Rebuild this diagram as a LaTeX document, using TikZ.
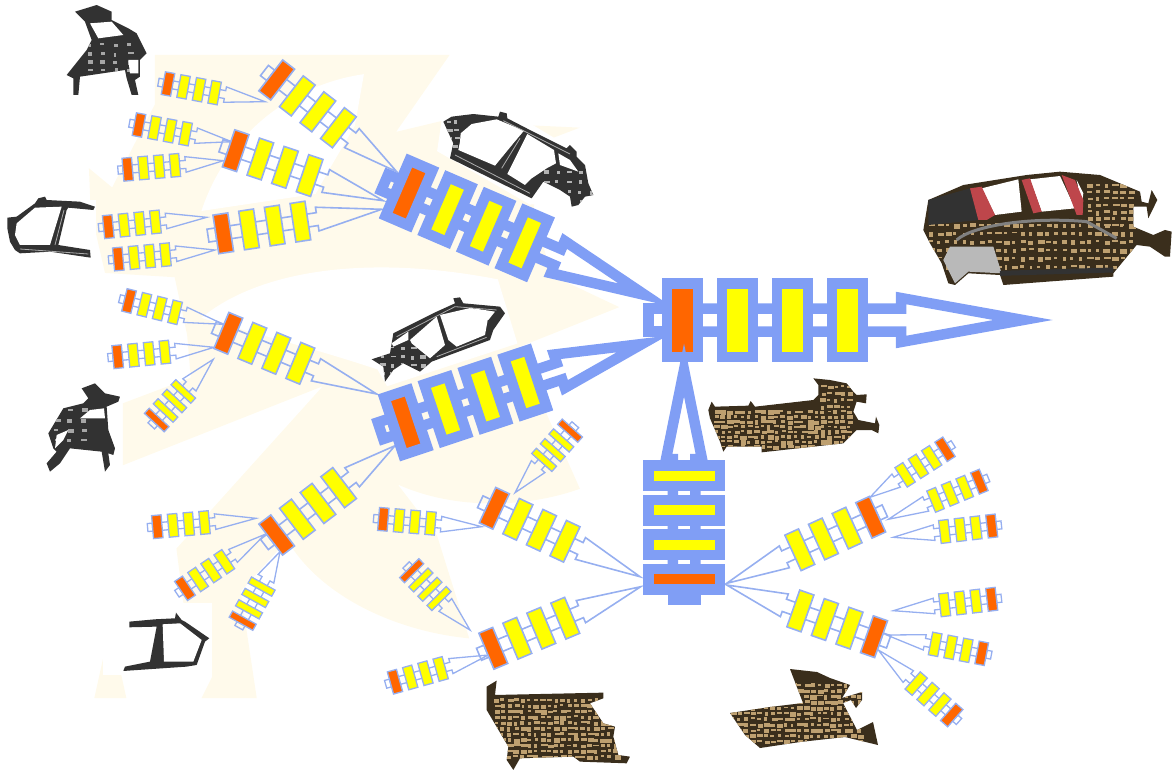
\documentclass[tikz,border=0pt]{standalone}
\usepackage{tikz}
\usetikzlibrary{calc,positioning}
\definecolor{my_blue}{RGB}{128,158,245}
\definecolor{my_thin}{RGB}{150,175,240}
\definecolor{my_red}{RGB}{255,102,0}
\definecolor{my_yellow}{RGB}{255,255,0}
\definecolor{my_cream}{RGB}{255,250,235}
\definecolor{my_panel}{RGB}{50,50,50}
\definecolor{my_brown}{RGB}{58,46,28}
\definecolor{my_tan}{RGB}{190,160,112}
\definecolor{my_pillar}{RGB}{190,70,75}
\tikzset{
  station_box/.style = {rectangle, draw=\railcol, line width=\linew pt, inner sep=0pt, outer sep=0pt,
  minimum width=\boxw pt, minimum height=\boxh pt, transform shape},
  rail_line/.style = {draw=\railcol, line width=\linew pt, miter limit=30},
  panel_fill/.style = {fill=my_panel},
  floor_fill/.style = {fill=my_brown},
  cream_fill/.style = {fill=my_cream},
  frame_line/.style = {draw=gray!65, line width=0.8pt}
}
\newcommand{\sizesmall}{\def\boxw{9.5}\def\boxh{23}\def\boxp{15.8}\def\railc{4}\def\stubs{5}\def\basex{58}\def\flare{7.8}\def\linew{1.3}\def\railcol{my_thin}}
\newcommand{\sizeflat}{\def\boxw{7}\def\boxh{27}\def\boxp{13}\def\railc{4.5}\def\stubs{4.5}\def\basex{48}\def\flare{9}\def\linew{1.3}\def\railcol{my_thin}}
\newcommand{\sizemid}{\def\boxw{15}\def\boxh{39}\def\boxp{26}\def\railc{6.5}\def\stubs{8}\def\basex{95}\def\flare{12}\def\linew{1.6}\def\railcol{my_thin}}
\newcommand{\sizebig}{\def\boxw{25}\def\boxh{60}\def\boxp{42}\def\railc{8.75}\def\stubs{14}\def\basex{162}\def\flare{17.5}\def\linew{10.5}\def\railcol{my_blue}}
\newcommand{\sizemain}{\def\boxw{31}\def\boxh{73.5}\def\boxp{55}\def\railc{11.5}\def\stubs{18.75}\def\basex{218.5}\def\flare{22}\def\linew{10.5}\def\railcol{my_blue}}
\newcommand{\sizecolumn}{\def\boxw{20.5}\def\boxh{71.5}\def\boxp{34.5}\def\railc{11.25}\def\stubs{10.5}\def\basex{120}\def\flare{18}\def\linew{10.5}\def\railcol{my_blue}}
% name, x, y of the red box, rotation, x, y of the tip
\newcommand{\station}[6]{%
  \coordinate (#1tip) at (#5,#6);
  \begin{scope}[shift={(#2,#3)},rotate=#4]
    \draw[rail_line] (-\boxw/2,-\railc) rectangle (-\boxw/2-\stubs,\railc);
    \draw[rail_line] (0,\railc) -- (\basex,\railc) -- (\basex,\flare) -- (#1tip) -- (\basex,-\flare) -- (\basex,-\railc) -- (0,-\railc);
    \node[station_box, fill=my_red] (#1a) at (0,0) {};
    \node[station_box, fill=my_yellow] (#1b) at (\boxp,0) {};
    \node[station_box, fill=my_yellow] (#1c) at (2*\boxp,0) {};
    \node[station_box, fill=my_yellow] (#1d) at (3*\boxp,0) {};
  \end{scope}}
% colour, x start, x second, x end, y start, y second, y end
\newcommand{\specks}[7]{%
  \foreach \tx in {#2,#3,...,#4}
    \foreach \ty in {#5,#6,...,#7}
      \fill[#1] (\tx+5*rnd,\ty+3*rnd) rectangle +(8+12*rnd,5+9*rnd);}
\begin{document}
\begin{tikzpicture}[x=1pt,y=-1pt]
  \useasboundingbox (0,0) rectangle (1174,774);
  \pgfmathsetseed{11}
  % faded background
  \begin{scope}[shift={(80,40)},xscale=0.3571,yscale=0.4274]
    \fill[cream_fill] (210,35) -- (1035,35) -- (885,215) -- (1010,190) -- (1400,205) -- (1290,240) -- (1270,400) -- (1320,550)
      -- (1510,625) -- (1225,720) -- (1320,900) -- (1400,1050) .. controls (1250,1095) and (1050,1100) .. (890,1040)
      -- (1000,1160) -- (1090,1400) .. controls (900,1385) and (680,1310) .. (580,1170) -- (450,1290) -- (495,1540) -- (340,1540) -- (370,1490)
      -- (370,1340) -- (290,1320) -- (270,1190) -- (680,810) -- (120,995) -- (120,850) -- (310,790) -- (300,690) -- (265,555) -- (70,545)
      -- (30,400) -- (25,300) -- (90,345) -- (210,150) -- cycle;
    \fill[cream_fill] (40,1540) -- (85,1370) -- (130,1540) -- cycle;
    \fill[white] (795,80) .. controls (620,100) and (420,200) .. (340,400) -- (660,360) -- (700,300) -- (770,200) -- cycle;
    \fill[white] (340,650) .. controls (500,540) and (800,500) .. (1170,560) -- (1190,650) -- (830,770) .. controls (650,720) and (500,690) .. (340,650) -- cycle;
    \fill[white] (815,745) -- (1170,560) -- (1225,710) -- (860,810) -- cycle;
    \fill[white] (1015,175) -- (1000,260) -- (1260,385) -- (1440,375) -- (1410,270) -- (1240,185) -- cycle;
    \fill[white] (-10,375) rectangle (45,520);
  \end{scope}
  % part at the top left
  \begin{scope}[scale=0.3333]
    \def\partone{(225,35) -- (290,15) -- (335,35) -- (335,60) -- (385,85) -- (410,100) -- (440,160) -- (420,180) -- (420,230) -- (405,240) -- (415,285) -- (395,285) -- (380,235) -- (375,210) -- (240,230) -- (235,285) -- (220,285) -- (220,235) -- (200,225) -- (260,150) -- (275,120) -- (255,65) -- cycle}
    \fill[panel_fill] \partone;
    \begin{scope}\clip \partone; \specks{gray!70}{260}{300}{400}{130}{155}{220} \end{scope}
    \fill[white] (270,70) -- (335,65) -- (370,105) -- (295,115) -- cycle;
    \fill[white] (385,180) -- (415,180) -- (415,220) -- (390,220) -- cycle;
  \end{scope}
  % part on the left
  \begin{scope}[shift={(0,185)},scale=0.3333]
    \fill[panel_fill] (22,98) -- (50,95) -- (105,55) -- (115,40) -- (135,35) -- (140,45) -- (240,50) -- (285,65) -- (280,75) -- (205,68) -- (200,75)
      -- (175,180) -- (270,195) -- (272,218) -- (150,200) -- (60,205) -- (45,195) -- (30,170) -- (22,130) -- cycle;
    \fill[white] (50,115) -- (105,68) -- (185,65) -- (150,180) -- (60,180) -- (45,150) -- cycle;
    \draw[frame_line] (192,75) -- (165,180) (60,192) -- (265,207);
  \end{scope}
  % part next to the middle row
  \begin{scope}[shift={(30,375)},scale=0.3333]
    \def\parttwo{(155,40) -- (195,25) -- (225,55) -- (270,65) -- (265,80) -- (230,95) -- (235,165) -- (255,220) -- (250,240) -- (235,235) -- (240,270) -- (225,290) -- (215,230) -- (120,220) -- (90,265) -- (60,290) -- (50,265) -- (80,230) -- (70,220) -- (55,175) -- (100,100) -- (160,85) -- (175,70) -- cycle}
    \fill[panel_fill] \parttwo;
    \begin{scope}\clip \parttwo; \specks{gray!70}{70}{110}{180}{100}{130}{190} \end{scope}
    \fill[white] (150,130) -- (180,105) -- (222,100) -- (225,130) -- cycle;
    \fill[white] (80,180) -- (115,165) -- (100,195) -- (75,220) -- cycle;
  \end{scope}
  % part at the bottom left
  \begin{scope}[shift={(90,270)},scale=0.3333]
    \fill[white] (40,1000) rectangle (365,1215);
    \fill[panel_fill] (118,1055) -- (195,1048) -- (255,1045) -- (258,1028) -- (275,1050) -- (285,1055) -- (358,1105) -- (345,1115) -- (320,1185) -- (290,1190)
      -- (100,1203) -- (105,1190) -- (180,1175) -- (200,1070) -- (118,1072) -- cycle;
    \fill[white] (218,1063) -- (270,1060) -- (335,1110) -- (310,1175) -- (222,1175) -- cycle;
  \end{scope}
  % upper side frame
  \begin{scope}[shift={(430,100)},scale=0.3333]
    \def\frameone{(40,65) -- (65,50) -- (130,42) -- (205,50) -- (210,35) -- (230,40) -- (232,55) -- (290,85) -- (410,145) -- (420,135) -- (440,155) -- (440,170) -- (465,195) -- (475,250) -- (490,285) -- (465,290) -- (445,315) -- (425,320) -- (420,290) -- (390,270) -- (340,245) -- (305,295) -- (60,175) -- (70,130) -- cycle}
    \fill[panel_fill] \frameone;
    \begin{scope}\clip \frameone; \specks{gray!60}{340}{375}{480}{210}{240}{300} \specks{gray!60}{45}{70}{90}{60}{85}{150} \end{scope}
    \fill[white] (92,100) -- (125,72) -- (200,58) -- (282,92) -- (250,130) -- (195,197) -- (85,150) -- (90,125) -- cycle;
    \fill[white] (292,102) -- (372,150) -- (378,190) -- (350,205) -- (305,235) -- (285,255) -- (232,222) -- cycle;
    \fill[white] (385,160) -- (420,180) -- (445,215) -- (390,195) -- cycle;
    \draw[frame_line] (75,165) -- (300,280) (220,62) -- (420,162) (270,115) -- (215,205);
  \end{scope}
  % lower side frame
  \begin{scope}[shift={(360,140)},scale=0.3333]
    \def\frametwo{(35,658) -- (90,640) -- (100,580) -- (230,515) -- (285,490) -- (280,475) -- (300,472) -- (310,490) -- (420,500) -- (435,520) -- (400,570) -- (390,600) -- (215,665) -- (180,695) -- (130,670) -- (100,690) -- (75,725) -- (70,680) -- cycle}
    \fill[panel_fill] \frametwo;
    \begin{scope}\clip \frametwo; \specks{gray!60}{60}{90}{180}{620}{645}{700} \end{scope}
    \fill[white] (150,600) -- (230,530) -- (255,615) -- (210,655) -- (155,610) -- cycle;
    \fill[white] (240,525) -- (335,503) -- (385,530) -- (375,585) -- (290,620) -- (265,600) -- cycle;
    \fill[white] (340,505) -- (405,515) -- (385,540) -- cycle;
    \fill[white] (95,610) -- (145,575) -- (145,600) -- (100,620) -- cycle;
    \draw[frame_line] (110,590) -- (285,500) -- (410,510) (230,650) -- (380,592);
  \end{scope}
  % floor next to the column
  \begin{scope}[shift={(690,365)},scale=0.3333]
    \def\floorone{(55,135) -- (65,110) -- (75,125) -- (175,122) -- (182,108) -- (195,125) -- (370,105) -- (385,90) -- (385,60) -- (370,40) -- (420,45) -- (470,55) -- (490,80) -- (500,90) -- (530,88) -- (528,115) -- (500,110) -- (490,140) -- (505,165) -- (555,175) -- (558,155) -- (568,180) -- (565,205) -- (545,195) -- (500,195) -- (460,235) -- (215,262) -- (215,245) -- (110,245) -- (100,260) -- (90,230) -- (60,160) -- cycle}
    \fill[floor_fill] \floorone;
    \begin{scope}\clip \floorone; \specks{my_tan}{70}{90}{470}{135}{150}{240} \specks{my_tan}{390}{410}{470}{60}{80}{130} \end{scope}
  \end{scope}
  % floor at the bottom
  \begin{scope}[shift={(370,410)},scale=0.3333]
    \def\floortwo{(350,830) -- (380,812) -- (375,855) -- (700,848) -- (700,865) -- (660,880) -- (700,940) -- (735,950) -- (730,980) -- (745,1035) -- (780,1040) -- (770,1060) -- (630,1055) -- (610,1040) -- (450,1045) -- (430,1080) -- (410,1050) -- (415,1010) -- (350,900) -- cycle}
    \fill[floor_fill] \floortwo;
    \begin{scope}\clip \floortwo; \specks{my_tan}{370}{390}{730}{865}{882}{1040} \end{scope}
  \end{scope}
  % floor at the bottom right
  \begin{scope}
    \def\floorthree{(730,713) -- (770,707) -- (803,703) -- (790,669) -- (817,672) -- (830,678) -- (850,685) -- (842,698) -- (862,692) -- (862,700) -- (856,708) -- (851,700) -- (843,703) -- (857,730) -- (873,722) -- (878,745) -- (845,737) -- (800,742) -- (760,748) -- (745,735) -- cycle}
    \fill[floor_fill] \floorthree;
    \begin{scope}\clip \floorthree; \begin{scope}[scale=0.3333] \specks{my_tan}{2190}{2210}{2580}{2050}{2067}{2230} \end{scope} \end{scope}
  \end{scope}
  % whole body
  \begin{scope}[shift={(900,150)},scale=0.3333]
    \def\bodyall{(70,240) -- (85,150) -- (190,105) -- (380,75) -- (480,65) -- (600,75) -- (660,100) -- (720,125) -- (725,155) -- (745,160) -- (755,120) -- (772,150) -- (745,205) -- (740,170) -- (700,170) -- (700,230) -- (760,255) -- (795,240) -- (815,245) -- (810,320) -- (795,320) -- (750,290) -- (710,285) -- (640,370) -- (640,380) -- (310,405) -- (300,375) -- (205,370) -- (165,405) -- (145,400) -- (125,340) -- (90,280) -- cycle}
    \fill[floor_fill] \bodyall;
    \begin{scope}\clip \bodyall;
      \specks{my_tan}{85}{110}{700}{220}{245}{360}
      \specks{my_tan}{560}{585}{700}{100}{120}{220}
      \fill[gray!55] (150,290) -- (280,290) -- (305,370) -- (205,365) -- (165,400) -- (130,330) -- cycle;
      \fill[my_panel] (85,150) -- (210,115) -- (240,210) -- (85,225) -- cycle;
      \draw[gray, line width=3pt] (170,270) .. controls (220,225) and (400,200) .. (560,215) -- (650,265);
      \draw[my_panel, line width=5pt] (300,370) -- (640,360);
    \end{scope}
    \fill[white] (245,115) -- (355,88) -- (365,185) -- (285,195) -- cycle;
    \fill[white] (390,88) -- (480,78) -- (525,175) -- (425,185) -- cycle;
    \fill[white] (530,90) -- (550,130) -- (545,165) -- cycle;
    \fill[my_pillar] (210,115) -- (245,110) -- (285,195) -- (260,210) -- (235,210) -- cycle;
    \fill[my_pillar] (365,90) -- (390,85) -- (425,185) -- (400,190) -- cycle;
    \fill[my_pillar] (485,75) -- (525,90) -- (550,150) -- (548,195) -- (530,195) -- cycle;
  \end{scope}
  % stations that feed the middle ones
  \sizesmall
  \station{sa}{168}{84}{-10.5}{265}{101.7}
  \station{sb}{139}{125}{-10.6}{231.7}{141.7}
  \station{sc}{127.7}{169.3}{4.8}{223.3}{160.7}
  \station{sd}{108.3}{226.7}{5.7}{206.7}{217.3}
  \station{se}{118.3}{259}{5.2}{215}{250}
  \station{sf}{129}{301}{-13.8}{223.3}{324.3}
  \station{sg}{117.7}{356.7}{5.5}{214}{347.3}
  \station{sh}{157.3}{526.7}{5}{256}{518.3}
  \station{si}{185}{588.3}{34}{265}{534.3}
  \station{sj}{383.3}{519.3}{-4.8}{481.7}{526.7}
  \station{sk}{395}{681.7}{15.6}{488.3}{655}
  \station{sl}{945}{449.3}{-147.4}{870}{497.3}
  \station{sm}{979.3}{481.7}{-157.5}{888.3}{519.3}
  \station{sn}{991.7}{526}{-173.4}{893.3}{537.3}
  \station{so}{991.7}{599.3}{-173.4}{893.3}{610.7}
  \station{sp}{981.7}{653.3}{169.1}{886.7}{635}
  \station{sq}{951.7}{715}{138.5}{878.3}{650}
  \sizeflat
  \station{fa}{156.7}{420}{47}{213.3}{359.3}
  \station{fb}{242.7}{620.7}{61}{280}{551.7}
  \station{fc}{570}{430.7}{-131.6}{515}{492.7}
  \station{fd}{411.7}{570.7}{-45.5}{470}{630}
  \sizemid
  \station{ma}{276.7}{80}{-37.7}{396.7}{171.7}
  \station{mb}{235.7}{150.7}{-18.6}{383.3}{200.7}
  \station{mc}{223.3}{233.3}{8.6}{381.7}{209.3}
  \station{md}{228.3}{333.3}{-22.6}{376.7}{394}
  \station{me}{276.7}{535}{37.4}{395}{445.7}
  \station{mf}{494.3}{508.3}{-25}{640}{576.7}
  \station{mg}{493.3}{648.3}{22.7}{640.7}{586.7}
  \station{mh}{870.7}{517.3}{-155.4}{726.7}{583.3}
  \station{mi}{874}{636.7}{160.7}{726.7}{585}
  % the blue ones
  \sizebig
  \station{upper}{409}{193}{-23.3}{645}{295}
  \sizemain
  \station{main}{682.5}{320}{0}{1023}{320}
  \sizebig
  \station{lower}{405.7}{422.3}{18.4}{642}{344}
  \sizecolumn
  \station{column}{684}{579}{90}{684}{370}
\end{tikzpicture}
\end{document}
